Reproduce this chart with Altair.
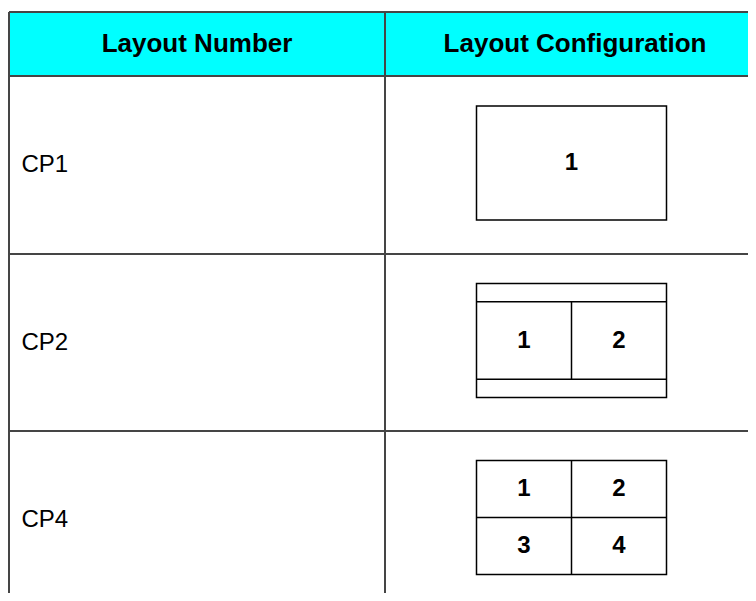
import altair as alt
import pandas as pd

# ---- table content -------------------------------------------------------
header_labels = ["Layout Number", "Layout Configuration"]
layout_numbers = ["CP1", "CP2", "CP4"]
panel_labels = [["1"], ["1", "2"], ["1", "2", "3", "4"]]
panel_grid = [(1, 1), (1, 2), (2, 2)]          # rows x cols of screen panels
banner_fraction = [0.0, 0.16, 0.0]             # empty strips above/below panels

# ---- table geometry (page pixels) ---------------------------------------
col_edges = [9, 385, 765]
row_edges = [12, 76, 254, 431, 608]
box_w, box_h = 190, 114
box_dx, box_dy = -3.5, -2.0
text_left = 21.5

FONT = "Liberation Sans"
X = alt.Scale(domain=[8, 748], nice=False, zero=False)
Y = alt.Scale(domain=[8, 593], nice=False, zero=False, reverse=True)

# header background
header_df = pd.DataFrame({"x": [col_edges[0]], "x2": [col_edges[-1]],
                          "y": [row_edges[0]], "y2": [row_edges[1]]})

# grid lines
lines = []
for ry in row_edges[:-1]:
    lines.append({"x": col_edges[0], "x2": col_edges[-1], "y": ry, "y2": ry})
for cx in col_edges:
    lines.append({"x": cx, "x2": cx, "y": row_edges[0], "y2": 620})
lines_df = pd.DataFrame(lines)

# header texts
hdr_df = pd.DataFrame({
    "x": [(col_edges[i] + col_edges[i + 1]) / 2 for i in range(2)],
    "y": [(row_edges[0] + row_edges[1]) / 2] * 2,
    "t": header_labels,
})

# row label texts
lab_df = pd.DataFrame({
    "x": [text_left] * len(layout_numbers),
    "y": [(row_edges[i + 1] + row_edges[i + 2]) / 2 for i in range(len(layout_numbers))],
    "t": layout_numbers,
})

# configuration boxes
rects, inner, nums = [], [], []
cx_col = (col_edges[1] + col_edges[2]) / 2 + box_dx
for i, name in enumerate(layout_numbers):
    cy = (row_edges[i + 1] + row_edges[i + 2]) / 2 + box_dy
    bx0, bx1 = cx_col - box_w / 2, cx_col + box_w / 2
    by0, by1 = cy - box_h / 2, cy + box_h / 2
    rects.append({"x": bx0, "x2": bx1, "y": by0, "y2": by1})
    band = banner_fraction[i] * box_h
    iy0, iy1 = by0 + band, by1 - band
    if band > 0:
        inner.append({"x": bx0, "x2": bx1, "y": iy0, "y2": iy0})
        inner.append({"x": bx0, "x2": bx1, "y": iy1, "y2": iy1})
    nr, nc = panel_grid[i]
    pw, ph = box_w / nc, (iy1 - iy0) / nr
    for c in range(1, nc):
        inner.append({"x": bx0 + c * pw, "x2": bx0 + c * pw, "y": iy0, "y2": iy1})
    for r in range(1, nr):
        inner.append({"x": bx0, "x2": bx1, "y": iy0 + r * ph, "y2": iy0 + r * ph})
    k = 0
    for r in range(nr):
        for c in range(nc):
            nums.append({"x": bx0 + (c + 0.5) * pw, "y": iy0 + (r + 0.5) * ph,
                         "t": panel_labels[i][k]})
            k += 1
rect_df = pd.DataFrame(rects)
inner_df = pd.DataFrame(inner)
num_df = pd.DataFrame(nums)

enc_xy = dict(x=alt.X("x:Q", scale=X, axis=None), y=alt.Y("y:Q", scale=Y, axis=None))

header_rect = alt.Chart(header_df).mark_rect(color="#00FFFF").encode(
    x2="x2:Q", y2="y2:Q", **enc_xy)

grid = alt.Chart(lines_df).mark_rule(color="#454545", strokeWidth=2).encode(
    x2="x2:Q", y2="y2:Q", **enc_xy)

boxes = alt.Chart(rect_df).mark_rect(fillOpacity=0, stroke="black", strokeWidth=1.5).encode(
    x2="x2:Q", y2="y2:Q", **enc_xy)

inner_lines = alt.Chart(inner_df).mark_rule(color="black", strokeWidth=1.5).encode(
    x2="x2:Q", y2="y2:Q", **enc_xy)

hdr_text = alt.Chart(hdr_df).mark_text(
    font=FONT, fontSize=26, fontWeight="bold", color="black", baseline="middle"
).encode(text="t:N", **enc_xy)

lab_text = alt.Chart(lab_df).mark_text(
    font=FONT, fontSize=24, color="black", align="left", baseline="middle"
).encode(text="t:N", **enc_xy)

num_text = alt.Chart(num_df).mark_text(
    font=FONT, fontSize=24, fontWeight="bold", color="black", baseline="middle"
).encode(text="t:N", **enc_xy)

chart = alt.layer(header_rect, grid, boxes, inner_lines, hdr_text, lab_text, num_text).properties(
    width=740, height=585,
    autosize=alt.AutoSizeParams(type="none"),
    padding=0,
    background="white",
).configure_view(stroke=None)

chart.save("out.html", embed_options={"renderer": "svg", "actions": False})
